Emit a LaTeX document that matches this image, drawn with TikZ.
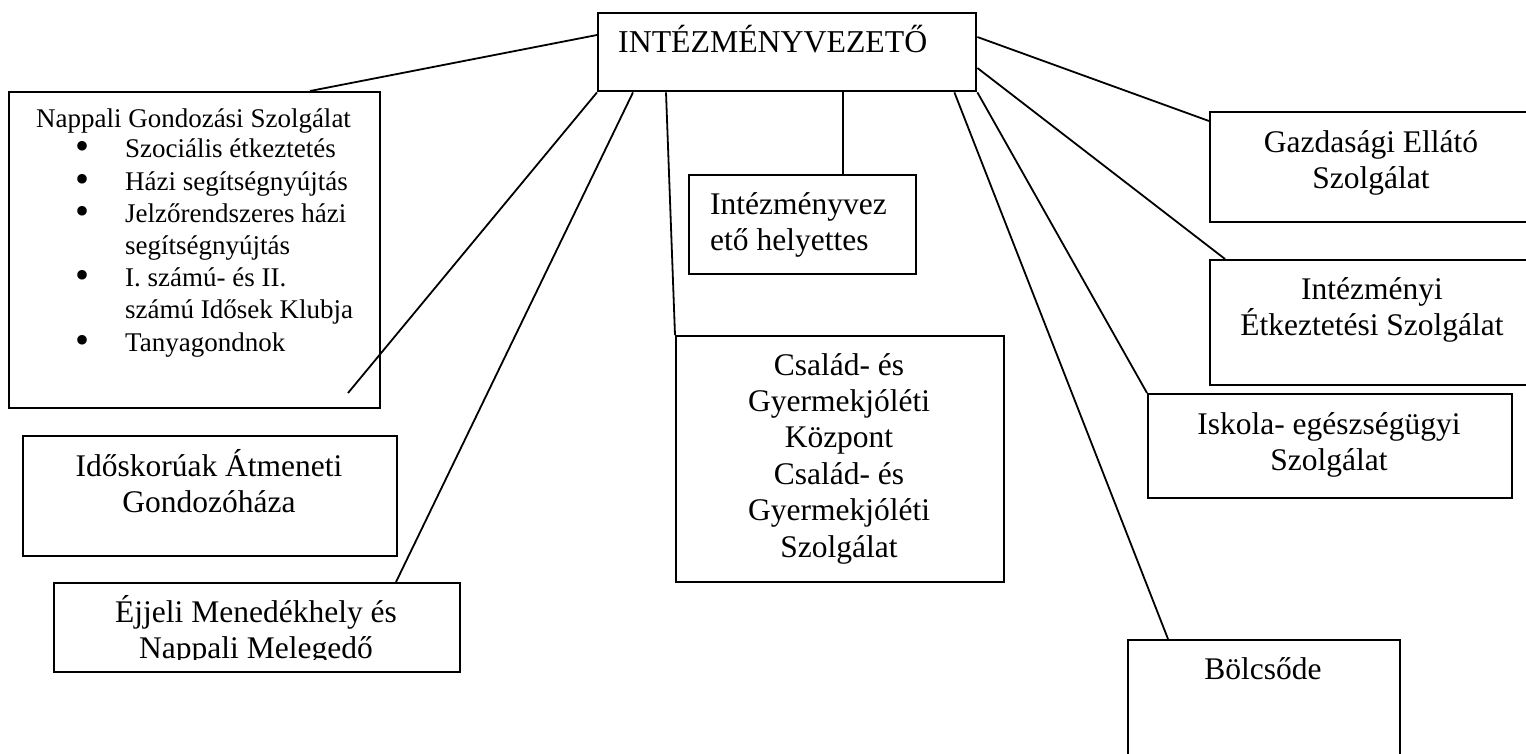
\documentclass[tikz,border=0pt]{standalone}
\usepackage{fontspec}
\setmainfont{Liberation Serif}
\usetikzlibrary{calc}
\newcommand{\bigtxt}{\fontsize{31.5}{36}\selectfont}
\newcommand{\smalltxt}{\fontsize{27}{32.2}\selectfont}
\newcommand{\bul}{\makebox[50pt][l]{\raisebox{-2pt}{\fontsize{40}{10}\selectfont\textbullet}}}
\begin{document}
\begin{tikzpicture}[x=1pt,y=-1pt,
  box/.style={draw=black, line width=2.4pt, inner sep=0pt, anchor=north west},
  conn/.style={draw=black, line width=1.8pt},
  txt/.style={inner sep=0pt, font=\bigtxt, align=center, anchor=base},
  ltxt/.style={inner sep=0pt, font=\bigtxt, align=left, anchor=base west}]
\useasboundingbox (0,0) rectangle (1526,753);
\clip (0,0) rectangle (1526,753);
\fill[white] (0,0) rectangle (1526,753);

% boxes
\node[box, minimum width=378pt, minimum height=78pt] (top) at (597,12) {};
\node[box, minimum width=371pt, minimum height=316pt] (nap) at (8,91) {};
\node[box, minimum width=374pt, minimum height=120pt] (ido) at (22,435) {};
\node[box, minimum width=406pt, minimum height=89pt] (ejj) at (53,582) {};
\node[box, minimum width=227pt, minimum height=99pt] (hely) at (688,174) {};
\node[box, minimum width=328pt, minimum height=246pt] (csa) at (675,335) {};
\node[box, minimum width=340pt, minimum height=110pt] (gaz) at (1209,111) {};
\node[box, minimum width=340pt, minimum height=125pt] (ine) at (1209,259) {};
\node[box, minimum width=364pt, minimum height=104pt] (isk) at (1147,393) {};
\node[box, minimum width=272pt, minimum height=140pt] (bol) at (1127,639) {};
\coordinate (napend) at (348,393);

% connectors
\draw[conn] ($(top.north west)+(0,23)$) -- ($(nap.north west)+(302,0)$);
\draw[conn] (top.south west) -- (napend);
\draw[conn] ($(top.south west)+(36,0)$) -- ($(ejj.north west)+(343,0)$);
\draw[conn] ($(top.south west)+(69,0)$) -- (csa.north west);
\draw[conn] ($(top.south west)+(246,0)$) -- ($(hely.north west)+(155,0)$);
\draw[conn] ($(top.north east)+(0,25)$) -- ($(gaz.north west)+(0,10)$);
\draw[conn] ($(top.north east)+(0,56)$) -- ($(ine.north west)+(16,0)$);
\draw[conn] (top.south east) -- (isk.north west);
\draw[conn] ($(top.south east)+(-23,0)$) -- ($(bol.north west)+(41,0)$);

% texts (anchor=base refers to the last line's baseline)
\node[ltxt, font=\fontsize{31.8}{36}\selectfont] (topt) at (618,52) {INTÉZMÉNYVEZETŐ};
\node[ltxt] (helyt) at (710,250) {Intézményvez\\ető helyettes};
\node[txt, font=\smalltxt] (napt) at (193.5,127) {Nappali Gondozási Szolgálat};
\node[ltxt, font=\smalltxt] (napl) at (75,351) {\bul Szociális étkeztetés\\
\bul Házi segítségnyújtás\\
\bul Jelzőrendszeres házi\\
\hspace*{50pt}segítségnyújtás\\
\bul I. számú- és II.\\
\hspace*{50pt}számú Idősek Klubja\\
\bul Tanyagondnok};
\node[txt] (idot) at (209,512) {Időskorúak Átmeneti\\Gondozóháza};
\begin{scope}
\clip (53,582) rectangle (459,659);
\node[txt] (ejjt) at (256,658) {Éjjeli Menedékhely és\\Nappali Melegedő};
\end{scope}
\node[txt, font=\fontsize{31.5}{36.4}\selectfont] (csat) at (839,557) {Család- és\\Gyermekjóléti\\Központ\\Család- és\\Gyermekjóléti\\Szolgálat};
\node[txt] (gazt) at (1371,188) {Gazdasági Ellátó\\Szolgálat};
\node[txt] (inet) at (1372,335) {Intézményi\\Étkeztetési Szolgálat};
\node[txt] (iskt) at (1329,470) {Iskola- egészségügyi\\Szolgálat};
\node[txt] (bolt) at (1263,679) {Bölcsőde};
\end{tikzpicture}
\end{document}
